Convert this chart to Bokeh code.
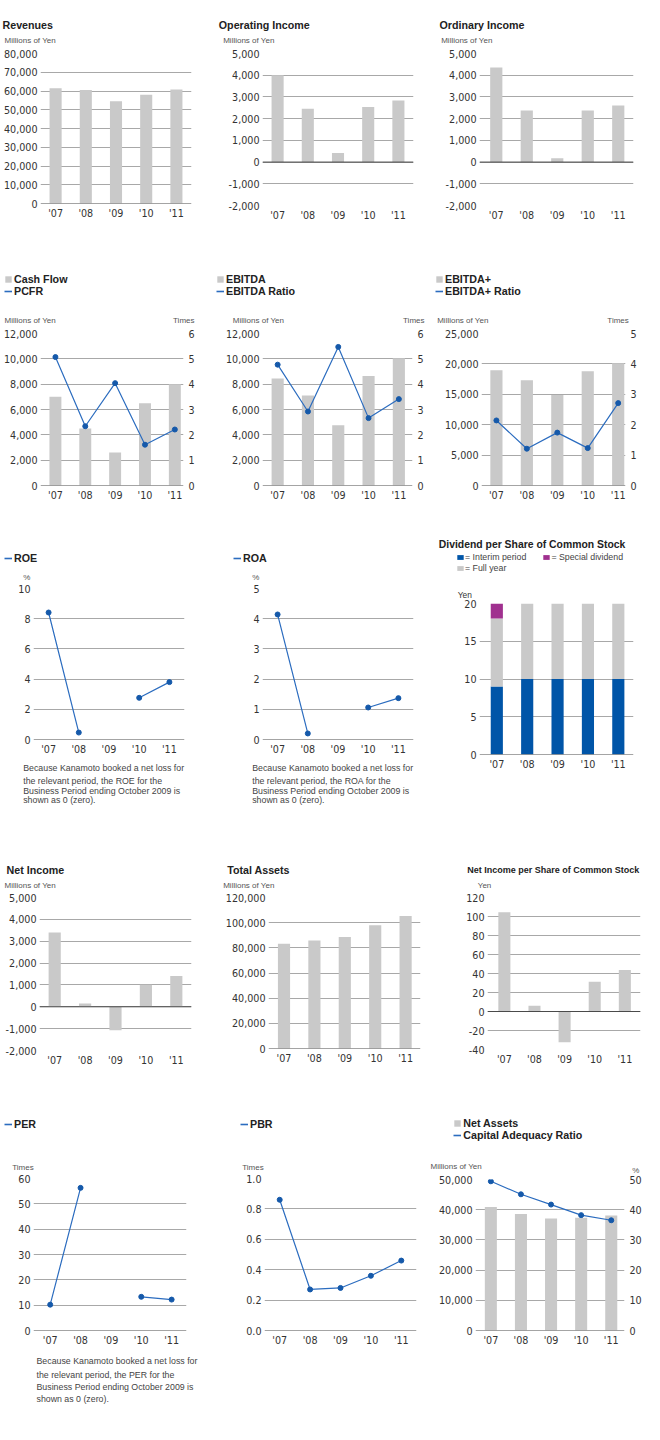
from bokeh.plotting import figure
from bokeh.models import (Range1d, LinearAxis, FixedTicker, NumeralTickFormatter,
                          Label, Legend, LegendItem, Span, ColumnDataSource)
from bokeh.layouts import row, column
from bokeh.embed import file_html
from bokeh.resources import INLINE

NaN = float("nan")

# ---------------- data ----------------
YEARS = ["'07", "'08", "'09", "'10", "'11"]
REVENUES = [61500, 60500, 54500, 58000, 60800]
OPERATING_INCOME = [4000, 2460, 420, 2540, 2830]
ORDINARY_INCOME = [4350, 2380, 180, 2380, 2600]
CASH_FLOW = [7000, 4500, 2600, 6500, 8000]
PCFR = [5.07, 2.34, 4.04, 1.61, 2.21]
EBITDA = [8450, 7100, 4750, 8650, 10050]
EBITDA_RATIO = [4.77, 2.92, 5.47, 2.66, 3.41]
EBITDA_PLUS = [18950, 17300, 14900, 18800, 20100]
EBITDA_PLUS_RATIO = [2.14, 1.21, 1.74, 1.23, 2.71]
ROE = [8.41, 0.46, NaN, 2.76, 3.80]
ROA = [4.14, 0.20, NaN, 1.06, 1.37]
DIV_INTERIM = [9, 10, 10, 10, 10]
DIV_FULL_YEAR = [9, 10, 10, 10, 10]
DIV_SPECIAL = [2, 0, 0, 0, 0]
NET_INCOME = [3400, 150, -1070, 1010, 1410]
TOTAL_ASSETS = [83200, 85800, 88700, 98000, 105200]
NET_INCOME_PER_SHARE = [104.4, 6.0, -32.3, 31.3, 43.6]
PER = [10.2, 56.3, NaN, 13.3, 12.2]
PBR = [0.86, 0.27, 0.28, 0.36, 0.46]
NET_ASSETS = [40900, 38600, 37100, 37300, 38100]
CAPITAL_ADEQUACY = [49.4, 45.1, 41.7, 38.2, 36.5]

TICKS_REVENUES = [0, 10000, 20000, 30000, 40000, 50000, 60000, 70000, 80000]
TICKS_INCOME = [-2000, -1000, 0, 1000, 2000, 3000, 4000, 5000]
TICKS_CF = [0, 2000, 4000, 6000, 8000, 10000, 12000]
TICKS_TIMES6 = [0, 1, 2, 3, 4, 5, 6]
TICKS_EBITDA_PLUS = [0, 5000, 10000, 15000, 20000, 25000]
TICKS_TIMES5 = [0, 1, 2, 3, 4, 5]
TICKS_ROE = [0, 2, 4, 6, 8, 10]
TICKS_ROA = [0, 1, 2, 3, 4, 5]
TICKS_DIV = [0, 5, 10, 15, 20]
TICKS_ASSETS = [0, 20000, 40000, 60000, 80000, 100000, 120000]
TICKS_NIPS = [-40, -20, 0, 20, 40, 60, 80, 100, 120]
TICKS_PER = [0, 10, 20, 30, 40, 50, 60]
TICKS_PBR = [0.0, 0.2, 0.4, 0.6, 0.8, 1.0]
TICKS_NET_ASSETS = [0, 10000, 20000, 30000, 40000, 50000]
TICKS_CAR = [0, 10, 20, 30, 40, 50]

NOTE_ROE = ["Because Kanamoto booked a net loss for", "the relevant period, the ROE for the",
            "Business Period ending October 2009 is", "shown as 0 (zero)."]
NOTE_ROA = ["Because Kanamoto booked a net loss for", "the relevant period, the ROA for the",
            "Business Period ending October 2009 is", "shown as 0 (zero)."]
NOTE_PER = ["Because Kanamoto booked a net loss for", "the relevant period, the PER for the",
            "Business Period ending October 2009 is", "shown as 0 (zero)."]

# ---------------- style ----------------
FONT = "Liberation Sans"
TICK_FONT = "DejaVu Sans"
TICK_SIZE = "9.6px"
TICK_COLOR = "#333333"
BAR_GRAY = "#c9c9c9"
GRID = "#a8a8a8"
ZERO = "#4a4a4a"
LINE_BLUE = "#2b6cbf"
DOT_BLUE = "#1559aa"
DIV_BLUE = "#0055a8"
DIV_PURPLE = "#a0308f"
TITLE_SIZE = "10.7px"
SMALL_SIZE = "8px"
NOTE_SIZE = "8.8px"

COL_W = [212, 216, 216]
CX_REF = [0, 212, 443]
ROW_TOP = [0, 262, 530, 855, 1108]
ROW_BOT = [262, 530, 855, 1108, 1420]


def style_axis(ax, standoff=3):
    ax.axis_line_color = None
    ax.major_tick_line_color = None
    ax.minor_tick_line_color = None
    ax.major_tick_out = 0
    ax.major_tick_in = 0
    ax.major_label_standoff = standoff
    ax.major_label_text_font = TICK_FONT
    ax.major_label_text_font_size = TICK_SIZE
    ax.major_label_text_color = TICK_COLOR


def blank(w, h):
    f = figure(width=w, height=h, x_range=Range1d(0, w), y_range=Range1d(h, 0),
               output_backend="svg", toolbar_location=None, title=None,
               x_axis_location=None, y_axis_location=None, min_border=0)
    f.grid.visible = False
    f.outline_line_color = None
    f.background_fill_color = "white"
    f.border_fill_color = "white"
    return f


class Panel:
    def __init__(self, col, rw, frame, yrange, yticks, fmt="0,0", xr=(-0.5, 4.5),
                 top_gap=6, footer=False):
        self.cx = CX_REF[col]
        self.w = COL_W[col]
        self.ry = ROW_TOP[rw]
        rb = ROW_BOT[rw]
        fx0, fx1, fy0, fy1 = frame
        ft, fb = round(fy0), round(fy1)
        self.ctop = ft - top_gap
        self.cbot = fb + 22 if footer else rb
        self.hdr_h = self.ctop - self.ry
        left = round(fx0 - self.cx)
        right = self.w - round(fx1 - self.cx)
        p = figure(width=self.w, height=self.cbot - self.ctop, x_range=Range1d(*xr),
                   y_range=Range1d(*yrange), output_backend="svg", toolbar_location=None,
                   title=None, min_border_left=left, min_border_right=right,
                   min_border_top=ft - self.ctop, min_border_bottom=self.cbot - fb)
        p.outline_line_color = None
        p.background_fill_color = "white"
        p.border_fill_color = "white"
        p.xgrid.visible = False
        p.ygrid.grid_line_color = GRID
        p.ygrid.grid_line_width = 1
        ya = p.yaxis[0]
        ya.ticker = FixedTicker(ticks=yticks)
        ya.formatter = NumeralTickFormatter(format=fmt)
        style_axis(ya, 3)
        xa = p.xaxis[0]
        xa.ticker = FixedTicker(ticks=list(range(len(YEARS))))
        xa.major_label_overrides = {i: y for i, y in enumerate(YEARS)}
        style_axis(xa, 4)
        self.p = p
        self.hdr = blank(self.w, self.hdr_h)
        self.ftr = blank(self.w, rb - self.cbot) if footer else None
        self.xs = list(range(len(YEARS)))

    def layout(self):
        kids = [column(self.hdr), self.p]
        if self.ftr is not None:
            kids.append(column(self.ftr))
        return column(*kids)

    def right_axis(self, rng, ticks):
        self.p.extra_y_ranges = {"r": Range1d(*rng)}
        ax = LinearAxis(y_range_name="r", ticker=FixedTicker(ticks=ticks))
        style_axis(ax, 5)
        self.p.add_layout(ax, "right")

    def zero(self):
        self.p.add_layout(Span(location=0, dimension="width", line_color=ZERO, line_width=1))

    def bars(self, vals):
        src = ColumnDataSource(dict(x=self.xs, v=vals))
        self.p.vbar(x="x", top="v", bottom=0, width=0.4, source=src,
                    fill_color=BAR_GRAY, line_color=None)
        return src

    def series(self, vals, rname="default"):
        src = ColumnDataSource(dict(x=self.xs, v=vals))
        self.p.line("x", "v", source=src, line_color=LINE_BLUE, line_width=1.2,
                    y_range_name=rname)
        self.p.scatter("x", "v", source=src, size=5, fill_color=DOT_BLUE, line_color=DOT_BLUE,
                       y_range_name=rname)
        return src

    def text(self, rx, ry, s, size=SMALL_SIZE, color="#555555", style="normal", align="left"):
        if ry < self.ctop:
            target, y = self.hdr, ry - self.ry
        else:
            target, y = self.ftr, ry - self.cbot
        target.add_layout(Label(x=rx - self.cx, y=y, text=s, text_font=FONT,
                                text_font_size=size, text_color=color, text_font_style=style,
                                text_align=align, text_baseline="middle"))

    def title(self, rx, ry, s, size=TITLE_SIZE):
        self.text(rx, ry, s, size=size, color="#222222", style="bold")

    def note(self, rx, rys, lines):
        for ry, s in zip(rys, lines):
            self.text(rx, ry, s, size=NOTE_SIZE, color="#444444")

    def legend(self, specs, rx, ry_first, pitch, gw=8, gh=8, size=TITLE_SIZE, style="bold",
               standoff=2, orientation="vertical", spacing=0, color="#222222"):
        # legend keys use hidden copies of the series' glyphs (same data source)
        items = []
        for label, kind, c, src in specs:
            if kind == "bar":
                r = self.hdr.vbar(x="x", top="v", width=0.4, source=src, fill_color=c,
                                  line_color=None, visible=False)
            else:
                r = self.hdr.line("x", "v", source=src, line_color=c, line_width=1.6,
                                  visible=False)
            items.append(LegendItem(label=label, renderers=[r]))
        n = len(items) if orientation == "vertical" else 1
        bottom_ref = ry_first - pitch / 2 + n * pitch
        lg = Legend(items=items, location=(rx - self.cx, self.hdr_h - (bottom_ref - self.ry)),
                    orientation=orientation, padding=0, margin=0, spacing=spacing,
                    glyph_width=gw, glyph_height=gh, label_height=int(pitch), label_width=10,
                    label_standoff=standoff, label_text_font=FONT, label_text_font_size=size,
                    label_text_font_style=style, label_text_color=color,
                    background_fill_alpha=0, border_line_alpha=0, inactive_fill_alpha=0)
        self.hdr.add_layout(lg)


# ---------------- row 1 ----------------
rev = Panel(0, 0, (39.3, 190.7, 52.7, 203.3), (0, 80000), TICKS_REVENUES)
rev.bars(REVENUES)
rev.zero()
rev.title(2, 24.5, "Revenues")
rev.text(4, 40, "Millions of Yen")

opi = Panel(1, 0, (262, 413, 52.7, 205), (-2000, 5000), TICKS_INCOME)
opi.bars(OPERATING_INCOME)
opi.zero()
opi.title(218.3, 24.5, "Operating Income")
opi.text(222.7, 40, "Millions of Yen")

ori = Panel(2, 0, (494, 648, 52.7, 205), (-2000, 5000), TICKS_INCOME, xr=(-0.55, 4.5))
ori.bars(ORDINARY_INCOME)
ori.zero()
ori.title(454, 24.5, "Ordinary Income")
ori.text(455.7, 40, "Millions of Yen")

# ---------------- row 2 ----------------
cf = Panel(0, 1, (38, 183, 333.3, 484.7), (0, 12000), TICKS_CF, xr=(-0.5, 4.29))
cf.right_axis((0, 6), TICKS_TIMES6)
s1 = cf.bars(CASH_FLOW)
cf.zero()
s2 = cf.series(PCFR, "r")
cf.legend([("Cash Flow", "bar", BAR_GRAY, s1), ("PCFR", "line", LINE_BLUE, s2)], 4, 279, 12.3)
cf.text(4, 319.7, "Millions of Yen")
cf.text(194, 319.7, "Times", align="right")

eb = Panel(1, 1, (262, 412, 333.3, 484.7), (0, 12000), TICKS_CF, xr=(-0.5, 4.45))
eb.right_axis((0, 6), TICKS_TIMES6)
s1 = eb.bars(EBITDA)
eb.zero()
s2 = eb.series(EBITDA_RATIO, "r")
eb.legend([("EBITDA", "bar", BAR_GRAY, s1), ("EBITDA Ratio", "line", LINE_BLUE, s2)],
          216, 279, 12.3)
eb.text(232.3, 319.7, "Millions of Yen")
eb.text(424, 319.7, "Times", align="right")

ebp = Panel(2, 1, (496, 640, 333.3, 484.7), (0, 25000), TICKS_EBITDA_PLUS, xr=(-0.49, 4.24))
ebp.right_axis((0, 5), TICKS_TIMES5)
s1 = ebp.bars(EBITDA_PLUS)
ebp.zero()
s2 = ebp.series(EBITDA_PLUS_RATIO, "r")
ebp.legend([("EBITDA+", "bar", BAR_GRAY, s1), ("EBITDA+ Ratio", "line", LINE_BLUE, s2)],
           450, 279, 12.3)
ebp.text(451.7, 319.7, "Millions of Yen")
ebp.text(643.3, 319.7, "Times", align="right")

# ---------------- row 3 ----------------
roe = Panel(0, 2, (33.3, 184.3, 587.7, 738.7), (0, 10), TICKS_ROE, footer=True)
roe.zero()
s2 = roe.series(ROE)
roe.legend([("ROE", "line", LINE_BLUE, s2)], 4, 558.3, 12.3)
roe.text(22.7, 576.7, "%")
roe.note(22.7, [767.5, 780.5, 790, 799.5], NOTE_ROE)

roa = Panel(1, 2, (261.7, 412.7, 587.7, 738.7), (0, 5), TICKS_ROA, footer=True)
roa.zero()
s2 = roa.series(ROA)
roa.legend([("ROA", "line", LINE_BLUE, s2)], 233, 558.3, 12.3)
roa.text(251.7, 576.7, "%")
roa.note(251.7, [767.5, 780.5, 790, 799.5], NOTE_ROA)

dv = Panel(2, 2, (494, 647.7, 603, 754.3), (0, 20), TICKS_DIV, xr=(-0.57, 4.5), top_gap=5)
dsrc = ColumnDataSource(dict(x=dv.xs, interim=DIV_INTERIM, full=DIV_FULL_YEAR, special=DIV_SPECIAL))
dv.p.vbar_stack(["interim", "full", "special"], x="x", width=0.4, source=dsrc,
                color=[DIV_BLUE, BAR_GRAY, DIV_PURPLE], line_color=None)
dv.zero()
dv.title(453.3, 544, "Dividend per Share of Common Stock", size="10.4px")
k1 = ColumnDataSource(dict(x=dv.xs, v=DIV_INTERIM))
k2 = ColumnDataSource(dict(x=dv.xs, v=DIV_SPECIAL))
k3 = ColumnDataSource(dict(x=dv.xs, v=DIV_FULL_YEAR))
dv.legend([("= Interim period", "bar", DIV_BLUE, k1), ("= Special dividend", "bar", DIV_PURPLE, k2)],
          471, 556.7, 11, gw=8, gh=6, size=NOTE_SIZE, style="normal", standoff=1,
          orientation="horizontal", spacing=16, color="#444444")
dv.legend([("= Full year", "bar", BAR_GRAY, k3)],
          471, 567.7, 11, gw=8, gh=6, size=NOTE_SIZE, style="normal", standoff=1, color="#444444")
dv.text(472.3, 594, "Yen", size="8.4px", color="#333333")

# ---------------- row 4 ----------------
ni = Panel(0, 3, (39.3, 190.7, 897.3, 1049.7), (-2000, 5000), TICKS_INCOME)
ni.bars(NET_INCOME)
ni.zero()
ni.title(6, 869, "Net Income")
ni.text(4, 884.7, "Millions of Yen")

ta = Panel(1, 3, (268.3, 420, 897.3, 1048.3), (0, 120000), TICKS_ASSETS, xr=(-0.51, 4.49))
ta.bars(TOTAL_ASSETS)
ta.zero()
ta.title(226.7, 869, "Total Assets")
ta.text(222.7, 884.7, "Millions of Yen")

nps = Panel(2, 3, (501.7, 655, 897, 1048.7), (-40, 120), TICKS_NIPS, xr=(-0.56, 4.52))
nps.bars(NET_INCOME_PER_SHARE)
nps.zero()
nps.title(481.7, 869.7, "Net Income per Share of Common Stock", size="9px")
nps.text(492.3, 884.7, "Yen")

# ---------------- row 5 ----------------
per = Panel(0, 4, (33.3, 185.7, 1178.3, 1329.7), (0, 60), TICKS_PER, xr=(-0.55, 4.49), footer=True)
per.zero()
s2 = per.series(PER)
per.legend([("PER", "line", LINE_BLUE, s2)], 4, 1124, 12.3)
per.text(11.7, 1166.7, "Times")
per.note(36, [1360.7, 1374, 1386.7, 1398.7], NOTE_PER)

pbr = Panel(1, 4, (264, 416, 1178.3, 1329.7), (0, 1.0), TICKS_PBR, fmt="0.0")
pbr.zero()
s2 = pbr.series(PBR)
pbr.legend([("PBR", "line", LINE_BLUE, s2)], 240, 1124, 12.3)
pbr.text(241.7, 1166.7, "Times")

na = Panel(2, 4, (490, 640, 1179.3, 1330.5), (0, 50000), TICKS_NET_ASSETS, xr=(-0.51, 4.44),
           top_gap=5)
na.right_axis((0, 50), TICKS_CAR)
s1 = na.bars(NET_ASSETS)
na.zero()
s2 = na.series(CAPITAL_ADEQUACY, "r")
na.legend([("Net Assets", "bar", BAR_GRAY, s1), ("Capital Adequacy Ratio", "line", LINE_BLUE, s2)],
          468.3, 1124, 11.5)
na.text(445, 1166, "Millions of Yen")
na.text(646.7, 1170, "%")

layout = column(
    row(rev.layout(), opi.layout(), ori.layout()),
    row(cf.layout(), eb.layout(), ebp.layout()),
    row(roe.layout(), roa.layout(), dv.layout()),
    row(ni.layout(), ta.layout(), nps.layout()),
    row(per.layout(), pbr.layout(), na.layout()),
)

open("out.html", "w").write(file_html(layout, INLINE))
